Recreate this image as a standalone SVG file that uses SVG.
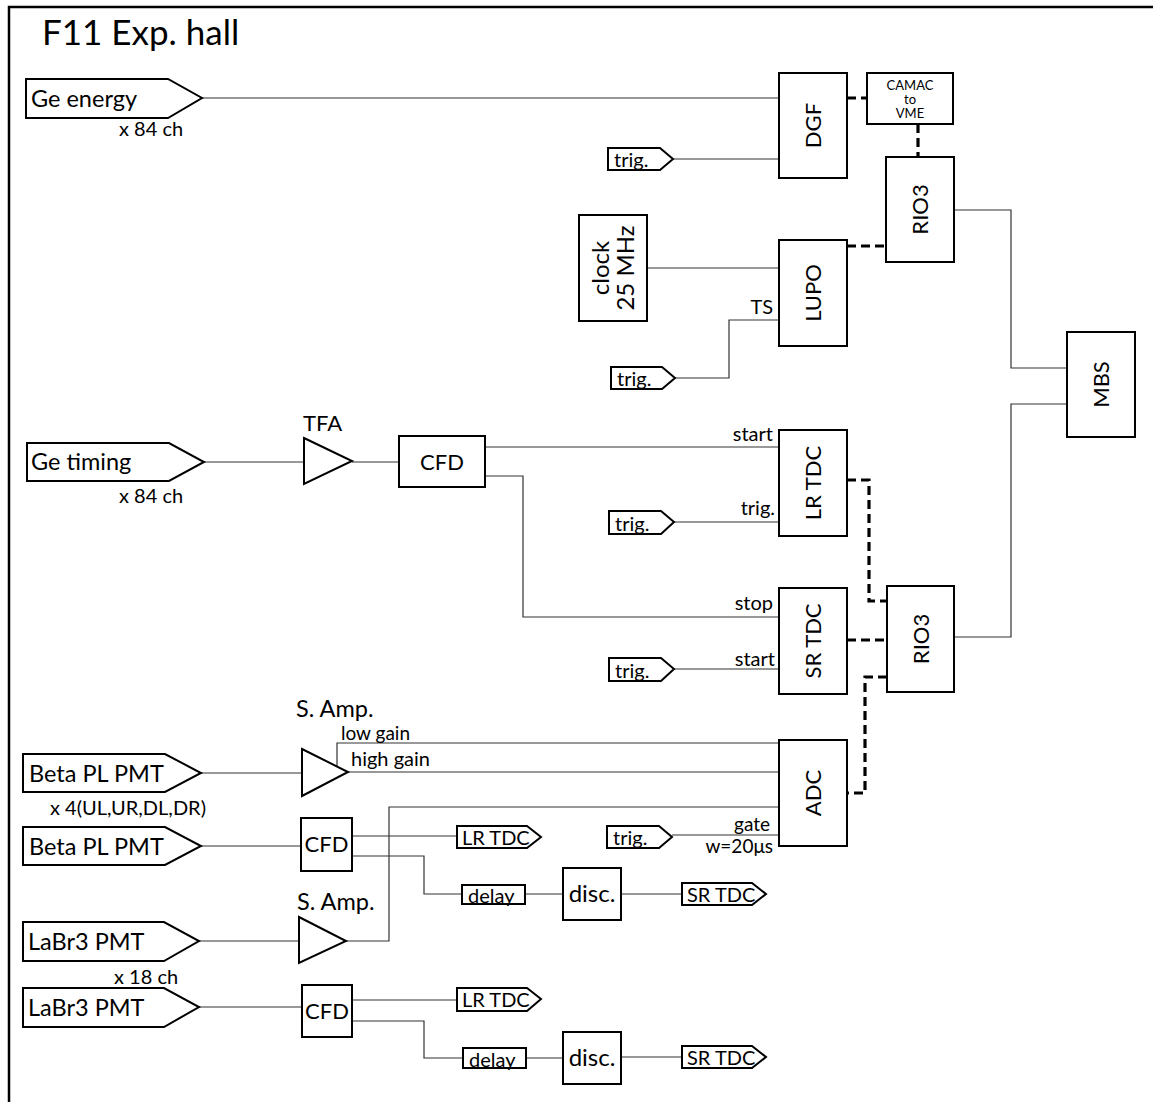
<svg xmlns="http://www.w3.org/2000/svg" width="1153" height="1102" viewBox="0 0 1153 1102">
<style>
text{font-family:Lato,"Liberation Sans",sans-serif;fill:#000}
.box{fill:#fff;stroke:#000;stroke-width:2}
.tag{fill:#fff;stroke:#000;stroke-width:2;stroke-linejoin:miter}
.ln{fill:none;stroke:#333;stroke-width:1.2}
.dash{fill:none;stroke:#000;stroke-width:3.2;stroke-dasharray:9,5}
.lbl{font-size:23.5px}
.big{font-size:22px;text-anchor:middle}
.sm{font-size:20px}
.tg{font-size:20px}
.r{text-anchor:end}
.cm{font-size:13px;text-anchor:middle}
</style>
<rect x="0" y="0" width="1153" height="1102" fill="#fff"/>
<path d="M9,1102 V7 H1153" fill="none" stroke="#000" stroke-width="2.5"/>
<text x="42" y="45" style="font-size:35px">F11 Exp. hall</text>

<g id="connectors">
<path class="ln" d="M202,98 H779"/>
<path class="ln" d="M673,159 H779"/>
<path class="ln" d="M647,268 H779"/>
<path class="ln" d="M779,320 H729 V378 H675"/>
<path class="ln" d="M204,462 H304"/>
<path class="ln" d="M352,462 H399"/>
<path class="ln" d="M485,447 H779"/>
<path class="ln" d="M485,476 H523 V617 H779"/>
<path class="ln" d="M674,522 H779"/>
<path class="ln" d="M674,669 H779"/>
<path class="ln" d="M954,210 H1011 V368 H1067"/>
<path class="ln" d="M954,637 H1011 V404 H1067"/>
<path class="ln" d="M201,773 H302"/>
<path class="ln" d="M337,767 V743 H779"/>
<path class="ln" d="M348,772 H779"/>
<path class="ln" d="M346,941 H389 V807 H779"/>
<path class="ln" d="M201,846 H302"/>
<path class="ln" d="M352,836 H457"/>
<path class="ln" d="M352,856 H424 V894 H462"/>
<path class="ln" d="M525,894 H563"/>
<path class="ln" d="M621,894 H682"/>
<path class="ln" d="M672,835 H779"/>
<path class="ln" d="M199,941 H299"/>
<path class="ln" d="M199,1007 H302"/>
<path class="ln" d="M352,1000 H457"/>
<path class="ln" d="M352,1021 H424 V1058 H463"/>
<path class="ln" d="M526,1058 H563"/>
<path class="ln" d="M621,1057 H682"/>
<path class="dash" d="M847,98 H867"/>
<path class="dash" d="M918,124 V157"/>
<path class="dash" d="M847,246 H886"/>
<path class="dash" d="M847,480 H869 V601 H887"/>
<path class="dash" d="M847,640 H887"/>
<path class="dash" d="M887,677 H865 V793 H847"/>
</g>

<g id="ge-energy"><path class="tag" d="M26,79 H168 L202,98 L168,118 H26 Z"/><text class="lbl" x="31" y="107">Ge energy</text><text class="sm" x="119" y="136">x 84 ch</text></g>
<g id="dgf"><rect class="box" x="779" y="73" width="68" height="105"/><text class="big" transform="translate(813,125.5) rotate(-90)" dy="8">DGF</text></g>
<g id="camac"><rect class="box" x="867" y="73" width="86" height="51"/><text class="cm" x="910" y="90">CAMAC</text><text class="cm" x="910" y="104">to</text><text class="cm" x="910" y="118">VME</text></g>
<g id="trig1"><path class="tag" d="M608,148 H660 L673,159 L660,170 H608 Z"/><text class="tg" x="614" y="167">trig.</text></g>
<g id="rio3-upper"><rect class="box" x="886" y="157" width="68" height="105"/><text class="big" transform="translate(920,209.5) rotate(-90)" dy="8">RIO3</text></g>
<g id="clock"><rect class="box" x="579" y="215" width="68" height="106"/><text class="big" style="font-size:24px" transform="translate(613,268) rotate(-90)" dy="-4">clock</text><text class="big" style="font-size:24px" transform="translate(613,268) rotate(-90)" dy="21">25 MHz</text></g>
<g id="lupo"><rect class="box" x="779" y="240" width="68" height="106"/><text class="big" transform="translate(813,293) rotate(-90)" dy="8">LUPO</text></g>
<text class="sm r" x="773" y="314">TS</text>
<g id="trig2"><path class="tag" d="M611,367 H662 L675,378 L662,389 H611 Z"/><text class="tg" x="617" y="386">trig.</text></g>
<g id="mbs"><rect class="box" x="1067" y="332" width="68" height="105"/><text class="big" transform="translate(1101,384.5) rotate(-90)" dy="8">MBS</text></g>

<g id="ge-timing"><path class="tag" d="M27,443 H169 L204,462 L169,481 H27 Z"/><text class="lbl" x="31" y="470">Ge timing</text><text class="sm" x="119" y="503">x 84 ch</text></g>
<g id="tfa"><path class="tag" d="M304,438 L352,461 L304,484 Z"/><text class="lbl" x="303" y="431" style="font-size:22px">TFA</text></g>
<g id="cfd-ge"><rect class="box" x="399" y="436" width="86" height="51"/><text class="big" x="442" y="470">CFD</text></g>
<g id="lr-tdc"><rect class="box" x="779" y="430" width="68" height="106"/><text class="big" transform="translate(813,483) rotate(-90)" dy="8">LR TDC</text></g>
<text class="sm r" x="773" y="441">start</text>
<text class="sm r" x="775" y="515">trig.</text>
<g id="trig3"><path class="tag" d="M609,511 H661 L674,522 L661,534 H609 Z"/><text class="tg" x="615" y="531">trig.</text></g>
<g id="sr-tdc"><rect class="box" x="779" y="588" width="68" height="106"/><text class="big" transform="translate(813,641) rotate(-90)" dy="8">SR TDC</text></g>
<text class="sm r" x="773" y="610">stop</text>
<text class="sm r" x="775" y="666">start</text>
<g id="trig4"><path class="tag" d="M609,658 H661 L674,669 L661,681 H609 Z"/><text class="tg" x="615" y="678">trig.</text></g>
<g id="rio3-lower"><rect class="box" x="887" y="586" width="67" height="106"/><text class="big" transform="translate(920.5,639) rotate(-90)" dy="8">RIO3</text></g>

<g id="beta1"><path class="tag" d="M23,754 H165 L201,773 L165,792 H23 Z"/><text class="lbl" x="29" y="782">Beta PL PMT</text><text class="sm" x="50" y="815">x 4(UL,UR,DL,DR)</text></g>
<g id="samp1"><path class="tag" d="M302,749 L348,772 L302,796 Z"/><text class="lbl" x="296" y="717">S. Amp.</text><text class="sm" style="font-size:19px" x="341" y="740">low gain</text><text class="sm" x="351" y="766">high gain</text></g>
<g id="adc"><rect class="box" x="779" y="740" width="68" height="106"/><text class="big" transform="translate(813,793) rotate(-90)" dy="8">ADC</text></g>
<g id="beta2"><path class="tag" d="M23,827 H165 L201,846 L165,865 H23 Z"/><text class="lbl" x="29" y="855">Beta PL PMT</text></g>
<g id="cfd-beta"><rect class="box" x="301" y="818" width="51" height="53"/><text class="big" x="326.5" y="852">CFD</text></g>
<g id="lr-out1"><path class="tag" d="M457,826 H527 L541,837 L527,848 H457 Z"/><text class="tg" x="462" y="845">LR TDC</text></g>
<g id="trig5"><path class="tag" d="M607,826 H659 L672,837 L659,848 H607 Z"/><text class="tg" x="613" y="845">trig.</text></g>
<text class="sm r" style="font-size:19px" x="770" y="831">gate</text>
<text class="sm r" style="font-size:19px" x="773" y="853">w=20μs</text>
<g id="delay1"><rect class="box" x="462" y="885" width="63" height="19"/><text class="tg" x="468" y="903">delay</text></g>
<g id="disc1"><rect class="box" x="563" y="868" width="58" height="52"/><text class="big" style="font-size:24px" x="592" y="902">disc.</text></g>
<g id="sr-out1"><path class="tag" d="M682,883 H752 L766,894 L752,905 H682 Z"/><text class="tg" x="687" y="902">SR TDC</text></g>

<g id="labr1"><path class="tag" d="M23,922 H164 L199,941 L164,961 H23 Z"/><text class="lbl" x="28" y="950">LaBr3 PMT</text><text class="sm" x="114" y="984">x 18 ch</text></g>
<g id="samp2"><path class="tag" d="M299,917 L346,941 L299,963 Z"/><text class="lbl" x="297" y="910">S. Amp.</text></g>
<g id="labr2"><path class="tag" d="M23,988 H164 L199,1007 L164,1027 H23 Z"/><text class="lbl" x="28" y="1016">LaBr3 PMT</text></g>
<g id="cfd-labr"><rect class="box" x="302" y="985" width="50" height="52"/><text class="big" x="327" y="1019">CFD</text></g>
<g id="lr-out2"><path class="tag" d="M457,988 H527 L541,999 L527,1011 H457 Z"/><text class="tg" x="462" y="1007">LR TDC</text></g>
<g id="delay2"><rect class="box" x="463" y="1048" width="63" height="20"/><text class="tg" x="469" y="1067">delay</text></g>
<g id="disc2"><rect class="box" x="563" y="1032" width="58" height="52"/><text class="big" style="font-size:24px" x="592" y="1066">disc.</text></g>
<g id="sr-out2"><path class="tag" d="M682,1046 H752 L766,1057 L752,1068 H682 Z"/><text class="tg" x="687" y="1065">SR TDC</text></g>
</svg>
